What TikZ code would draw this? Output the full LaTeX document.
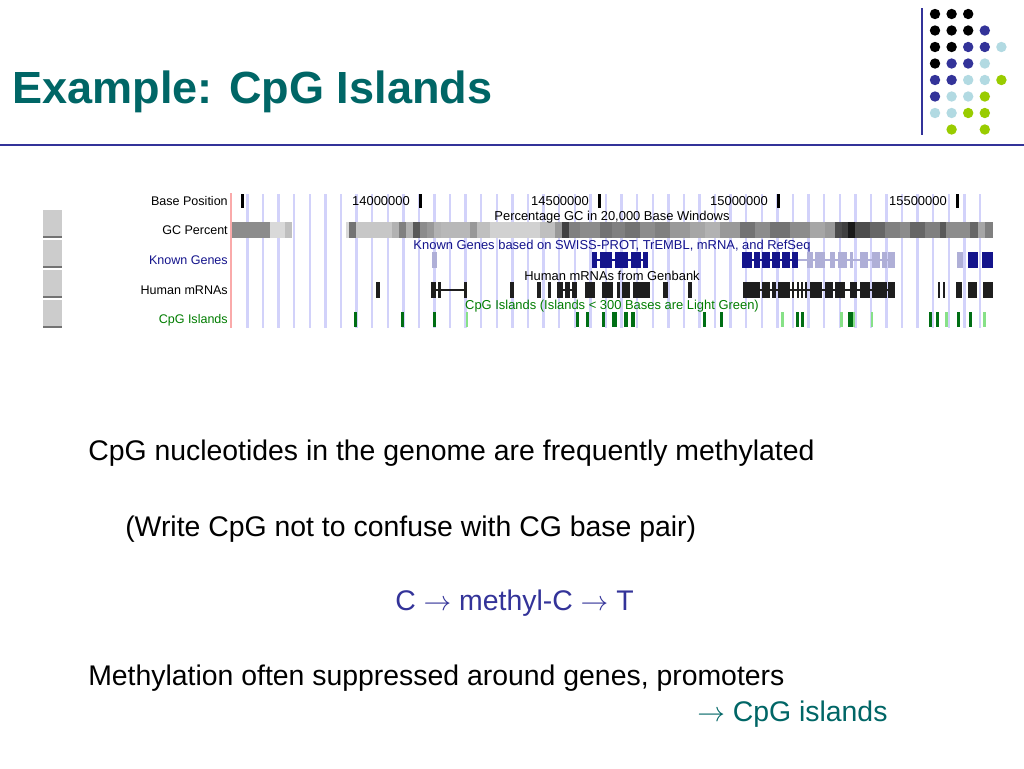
\documentclass[tikz,border=0pt]{standalone}
\usepackage{fontspec}
\setmainfont{Liberation Sans}
\usetikzlibrary{positioning}

% colours of the slide
\definecolor{titleteal}{RGB}{0,102,102}
\definecolor{slideblue}{RGB}{51,51,153}
\definecolor{dotcyan}{RGB}{178,218,226}
\definecolor{dotgreen}{RGB}{153,204,0}
% colours of the browser shot
\definecolor{gridlav}{RGB}{210,210,250}
\definecolor{posred}{RGB}{250,170,170}
\definecolor{genenavy}{RGB}{20,20,140}
\definecolor{genelav}{RGB}{175,175,215}
\definecolor{mrnablack}{RGB}{30,30,30}
\definecolor{cpgdark}{RGB}{0,110,20}
\definecolor{cpglight}{RGB}{135,225,135}
\definecolor{cpgtext}{RGB}{0,125,0}

\tikzset{
  slidetext/.style={anchor=base west, inner sep=0pt, font=\fontsize{21.3}{25}\selectfont},
  tracklabel/.style={anchor=east, inner sep=0pt, font=\fontsize{9.4}{11}\selectfont},
  trackhead/.style={inner sep=0pt, font=\fontsize{9.7}{11}\selectfont},
  dot/.style={circle, inner sep=0pt, minimum size=7.8pt},
  gridline/.style={gridlav, line width=1.8pt},
}

\begin{document}
\begin{tikzpicture}[x=0.75pt, y=-0.75pt]
\useasboundingbox[fill=white] (0,0) rectangle (1024,768);

% Title and rules
\node[anchor=base west, inner sep=0pt, text=titleteal, font=\fontsize{33.8}{40}\selectfont\bfseries] (title) at (12,103) {Example: CpG Islands};
\draw[slideblue, line width=2.2pt] (0,145) -- (1024,145);
\draw[slideblue, line width=1.5pt] (921.5,8) -- (921.5,135);

% Dots in the corner
\foreach \c/\r/\col in {1/1/black, 2/1/black, 3/1/black,
    1/2/black, 2/2/black, 3/2/black, 4/2/slideblue,
    1/3/black, 2/3/black, 3/3/slideblue, 4/3/slideblue, 5/3/dotcyan,
    1/4/black, 2/4/slideblue, 3/4/slideblue, 4/4/dotcyan,
    1/5/slideblue, 2/5/slideblue, 3/5/dotcyan, 4/5/dotcyan, 5/5/dotgreen,
    1/6/slideblue, 2/6/dotcyan, 3/6/dotcyan, 4/6/dotgreen,
    1/7/dotcyan, 2/7/dotcyan, 3/7/dotgreen, 4/7/dotgreen,
    2/8/dotgreen, 4/8/dotgreen}
  \node[dot, fill=\col] (dot-\r-\c) at ({935+(\c-1)*16.6},{14+(\r-1)*16.5}) {};

% Buttons at the left of the browser
\foreach \y in {210,240,270,300} {
  \fill[black!20] (43,\y) rectangle (62,{\y+27});
  \draw[black!55, line width=0.9pt] (43,{\y+27}) -- (62,{\y+27});
}

% Grid of the browser
\foreach \i in {0,...,47}
  \draw[gridline] ({247.5+\i*15.585},194) -- ({247.5+\i*15.585},328);
\draw[posred, line width=1.5pt] (231,193) -- (231,328);

% Track labels
\node[tracklabel] (lblbase) at (228,201) {Base Position};
\node[tracklabel] (lblgc) at (228,230) {GC Percent};
\node[tracklabel, text=genenavy] (lblknown) at (228,260) {Known Genes};
\node[tracklabel] (lblmrna) at (228,290) {Human mRNAs};
\node[tracklabel, text=cpgtext] (lblcpg) at (228,320) {CpG Islands};

% Base position
\fill[black] (241,194) rectangle (244,208);
\foreach \x/\lbl in {420/14000000, 599/14500000, 778/15000000, 957/15500000} {
  \fill[black] ({\x-1.5},194) rectangle ({\x+1.5},208);
  \node[trackhead, anchor=east] (pos\lbl) at ({\x-10},201) {\lbl};
}

% GC percent in windows
\foreach \a/\b/\g in {232/270/45, 270/285/15, 285/292/25,
    346/349/15, 349/356/55, 356/392/22, 392/399/30, 399/406/50, 406/413/30,
    413/420/65, 420/427/45, 427/434/40, 434/441/30, 441/470/28, 470/477/40,
    477/490/25, 490/540/18, 540/555/25, 555/562/40, 562/569/75, 569/580/50,
    580/600/45, 600/612/55, 612/625/50, 625/640/55, 640/655/45, 655/670/50,
    670/690/40, 690/705/35, 705/720/30, 720/740/40, 740/755/55, 755/770/45,
    770/790/55, 790/810/45, 810/825/35, 825/835/40, 835/842/70, 842/848/75,
    848/855/90, 855/870/70, 870/885/60, 885/900/50, 900/910/45, 910/925/60,
    925/940/50, 940/946/65, 946/970/45, 970/978/60, 978/985/35, 985/993/50}
  \fill[black!\g] (\a,222) rectangle (\b,238);
\node[trackhead] (headgc) at (612,217) {Percentage GC in 20,000 Base Windows};

% Known genes
\node[trackhead, text=genenavy] (headknown) at (612,246.5) {Known Genes based on SWISS-PROT, TrEMBL, mRNA, and RefSeq};
\draw[genenavy, line width=1.2pt] (592,260) -- (648,260) (742,260) -- (798,260);
\draw[genelav, line width=1.2pt] (798,260) -- (895,260);
\foreach \a/\b in {592/597, 600/612, 615/628, 631/641, 643/648,
    742/752, 754/760, 762/770, 772/780, 782/790, 792/798, 968/978, 982/993}
  \fill[genenavy] (\a,252) rectangle (\b,268);
\foreach \a/\b in {432/437, 807/813, 815/825, 830/835, 838/847, 850/853,
    860/868, 872/880, 882/887, 888/895, 957/963}
  \fill[genelav] (\a,252) rectangle (\b,268);

% Human mRNAs
\node[trackhead] (headmrna) at (612,276) {Human mRNAs from Genbank};
\draw[mrnablack, line width=1.2pt] (436,290) -- (467,290) (557,290) -- (577,290)
  (743,290) -- (895,290);
\foreach \a/\b in {376/380, 431/436, 438/441, 464/467, 510/514, 537/541,
    548/551, 557/563, 565/570, 572/577, 585/595, 602/613, 617/620, 622/630,
    633/650, 663/668, 688/692, 743/760, 762/770, 772/776, 778/790, 792/794,
    797/799, 801/803, 805/807, 810/822, 825/833, 835/845, 850/857, 860/870,
    872/887, 888/895, 938/940, 943/945, 956/962, 968/977, 983/993}
  \fill[mrnablack] (\a,282) rectangle (\b,298);

% CpG islands
\node[trackhead, text=cpgtext] (headcpg) at (612,306) {CpG Islands (Islands < 300 Bases are Light Green)};
\foreach \x/\w in {354/3, 401/3, 433/3, 576/3, 586/3, 602/3, 612/5, 624/4,
    631/4, 703/3, 720/3, 796/3, 801/3, 848/5, 929/3, 936/3, 957/3, 969/3}
  \fill[cpgdark] (\x,312) rectangle ({\x+\w},327);
\foreach \x/\w in {466/2, 781/3, 840/3, 853/2, 871/2, 945/3, 983/3}
  \fill[cpglight] (\x,312) rectangle ({\x+\w},327);

% Text of the slide
\node[slidetext] (methyl) at (88,460) {CpG nucleotides in the genome are frequently methylated};
\node[slidetext] (note) at (125,536) {(Write CpG not to confuse with CG base pair)};
\node[slidetext, text=slideblue] (chain) at (395,610) {C $\rightarrow$ methyl-C $\rightarrow$ T};
\node[slidetext] (suppress) at (88,685) {Methylation often suppressed around genes, promoters};
\node[slidetext, text=titleteal] (islands) at (697,721) {$\rightarrow$ CpG islands};
\end{tikzpicture}
\end{document}
